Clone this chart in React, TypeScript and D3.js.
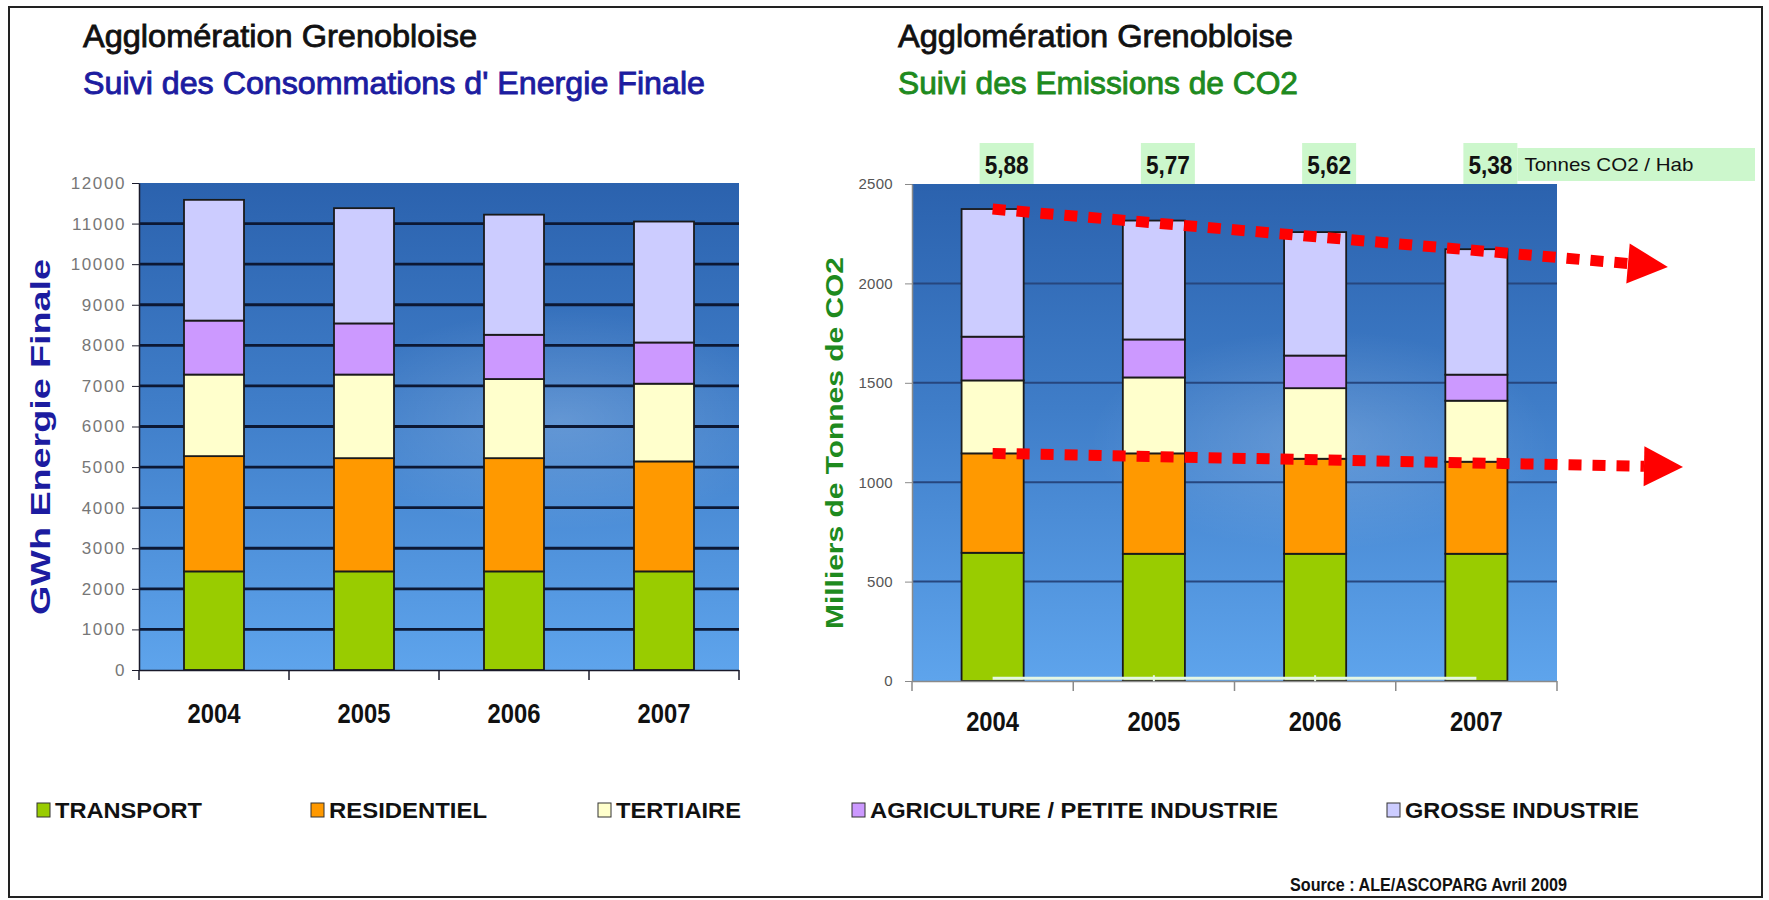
import * as d3 from 'd3';
import { useEffect, useRef } from 'react';

const years = ['2004', '2005', '2006', '2007'];
const sectors = ['TRANSPORT', 'RESIDENTIEL', 'TERTIAIRE', 'AGRICULTURE / PETITE INDUSTRIE', 'GROSSE INDUSTRIE'];
const sectorColors = ['#99cc00', '#ff9900', '#ffffcc', '#cc99ff', '#ccccff'];

// GWh energie finale
const energyTransport = [2430, 2430, 2430, 2430];
const energyResidentiel = [2840, 2790, 2790, 2710];
const energyTertiaire = [2010, 2060, 1950, 1915];
const energyAgriculture = [1330, 1260, 1090, 1015];
const energyGrosse = [2975, 2840, 2960, 2980];
const energyTicks = d3.range(0, 12001, 1000);

// milliers de tonnes de CO2
const co2Transport = [645, 640, 640, 640];
const co2Residentiel = [500, 505, 478, 463];
const co2Tertiaire = [367, 382, 355, 307];
const co2Agriculture = [220, 191, 164, 131];
const co2Grosse = [642, 598, 621, 631];
const co2Ticks = [0, 500, 1000, 1500, 2000, 2500];
const co2PerHab = ['5,88', '5,77', '5,62', '5,38'];
const co2BaseLine = [14, 14, 14, 14];

// trend arrows (start value on 2004 bar, end value past 2007)
const trendTop = [2374, 2100];
const trendBottom = [1145, 1080];

const legendX = [37, 311, 598, 852, 1387];
const legendW = [147, 158, 125, 408, 234];

const FONT = '"Liberation Sans", Arial, sans-serif';

const App = () => {
  const svgRef = useRef(null);
  const width = 1769, height = 900;

  useEffect(() => {
    const svg = d3.select(svgRef.current);
    svg.selectAll('*').remove();

    const defs = svg.append('defs');
    const sky = defs.append('linearGradient').attr('id', 'sky').attr('x1', 0).attr('y1', 0).attr('x2', 0).attr('y2', 1);
    sky.append('stop').attr('offset', '0%').attr('stop-color', '#2b62ae');
    sky.append('stop').attr('offset', '45%').attr('stop-color', '#3f7dc8');
    sky.append('stop').attr('offset', '100%').attr('stop-color', '#5ea4ec');
    const cloud = defs.append('radialGradient').attr('id', 'cloud');
    cloud.append('stop').attr('offset', '0%').attr('stop-color', '#ffffff').attr('stop-opacity', 0.18);
    cloud.append('stop').attr('offset', '100%').attr('stop-color', '#ffffff').attr('stop-opacity', 0);

    svg.append('rect').attr('width', width).attr('height', height).attr('fill', '#fff');
    svg.append('rect').attr('x', 9).attr('y', 7).attr('width', 1753).attr('height', 890)
      .attr('fill', 'none').attr('stroke', '#222').attr('stroke-width', 2);

    const txt = (x, y, s, size, fill, opts: any = {}) => {
      const t = svg.append('text').attr('x', x).attr('y', y).text(s)
        .attr('font-family', FONT).attr('font-size', size).attr('fill', fill)
        .attr('font-weight', opts.bold ? 'bold' : 'normal')
        .attr('text-anchor', opts.anchor || 'start');
      if (opts.len) t.attr('textLength', opts.len).attr('lengthAdjust', 'spacingAndGlyphs');
      if (opts.stroke) t.attr('stroke', fill).attr('stroke-width', opts.stroke);
      return t;
    };

    // titles
    txt(83, 47, 'Agglomération Grenobloise', 31, '#111', { len: 394, stroke: 0.8 });
    txt(83, 94, "Suivi des Consommations d' Energie Finale", 32, '#1c1ca0', { len: 622, stroke: 0.9 });
    txt(898, 47, 'Agglomération Grenobloise', 31, '#111', { len: 395, stroke: 0.8 });
    txt(898, 94, 'Suivi des Emissions de CO2', 32, '#1e8a1e', { len: 400, stroke: 0.9 });

    const drawPanel = (p) => {
      const x = d3.scaleBand().domain(years).range([p.x0, p.x1]).paddingInner(p.pad).paddingOuter(p.pad / 2);
      const y = d3.scaleLinear().domain([0, p.max]).range([p.y1, p.y0]);
      const g = svg.append('g');

      g.append('rect').attr('x', p.x0).attr('y', p.y0).attr('width', p.x1 - p.x0).attr('height', p.y1 - p.y0)
        .attr('fill', 'url(#sky)');
      g.append('ellipse').attr('cx', p.cloudX).attr('cy', p.cloudY).attr('rx', 230).attr('ry', 110).attr('fill', 'url(#cloud)');

      // grid
      g.append('g').selectAll('line').data(p.ticks.filter(t => t > 0 && t < p.max)).join('line')
        .attr('x1', p.x0).attr('x2', p.x1).attr('y1', d => y(d)).attr('y2', d => y(d))
        .attr('stroke', p.gridColor).attr('stroke-width', p.gridWidth);

      // stacks
      const rows = years.map((yr, i) => {
        const r: any = { year: yr };
        sectors.forEach((s, k) => { r[s] = p.series[k][i]; });
        return r;
      });
      const stacked = d3.stack().keys(sectors)(rows);
      stacked.forEach((layer, k) => {
        g.append('g').selectAll('rect').data(layer).join('rect')
          .attr('x', d => x(d.data.year)).attr('y', d => y(d[1]))
          .attr('width', x.bandwidth()).attr('height', d => y(d[0]) - y(d[1]))
          .attr('fill', sectorColors[k]).attr('stroke', '#1a1a1a').attr('stroke-width', 1.8);
      });

      // y axis
      const ax = g.append('g').attr('transform', `translate(${p.x0},0)`)
        .call(d3.axisLeft(y).tickValues(p.ticks).tickSize(7).tickSizeOuter(0).tickPadding(p.tickPad).tickFormat(d3.format('d')));
      ax.select('.domain').attr('stroke', p.axisColor).attr('stroke-width', 1.5);
      ax.selectAll('.tick line').attr('stroke', p.axisColor);
      ax.selectAll('.tick text').attr('font-family', FONT).attr('font-size', p.tickFont)
        .attr('fill', p.tickColor).attr('letter-spacing', p.tickSpacing);

      // x axis
      g.append('line').attr('x1', p.x0).attr('x2', p.x1).attr('y1', p.y1 + 0.5).attr('y2', p.y1 + 0.5)
        .attr('stroke', p.axisColor).attr('stroke-width', 1.5);
      g.append('g').selectAll('line').data(d3.range(years.length + 1)).join('line')
        .attr('x1', i => p.x0 + i * x.step()).attr('x2', i => p.x0 + i * x.step())
        .attr('y1', p.y1).attr('y2', p.y1 + 10).attr('stroke', p.axisColor).attr('stroke-width', 1.5);
      years.forEach(yr => {
        txt(x(yr) + x.bandwidth() / 2, p.yearY, yr, 27, '#111', { bold: true, anchor: 'middle', len: 53 });
      });
      return { x, y };
    };

    // left panel
    drawPanel({
      series: [energyTransport, energyResidentiel, energyTertiaire, energyAgriculture, energyGrosse],
      x0: 139, x1: 739, y0: 183, y1: 670, max: 12000, ticks: energyTicks, pad: 0.6,
      gridColor: '#0c1834', gridWidth: 2.8, axisColor: '#1a1a2a', tickFont: 17, tickColor: '#777',
      tickSpacing: 1.6, tickPad: 6, yearY: 723, cloudX: 560, cloudY: 420,
    });

    // right panel
    const { x, y } = drawPanel({
      series: [co2Transport, co2Residentiel, co2Tertiaire, co2Agriculture, co2Grosse],
      x0: 912, x1: 1557, y0: 184, y1: 681, max: 2500, ticks: co2Ticks, pad: 0.615,
      gridColor: '#26467e', gridWidth: 2, axisColor: '#8a8a8a', tickFont: 15, tickColor: '#555',
      tickSpacing: 0.3, tickPad: 12, yearY: 731, cloudX: 1320, cloudY: 440,
    });

    // pale base line
    const cx = (yr) => x(yr) + x.bandwidth() / 2;
    svg.append('path').datum(co2BaseLine)
      .attr('d', d3.line<number>().x((d, i) => cx(years[i])).y(d => y(d))(co2BaseLine))
      .attr('fill', 'none').attr('stroke', '#e4f7e4').attr('stroke-width', 3);
    svg.append('g').selectAll('line').data(years.slice(1, 3)).join('line')
      .attr('x1', d => cx(d)).attr('x2', d => cx(d))
      .attr('y1', y(co2BaseLine[0]) - 3).attr('y2', y(co2BaseLine[0]) + 3)
      .attr('stroke', '#e4f7e4').attr('stroke-width', 2);

    // CO2 per inhabitant labels
    co2PerHab.forEach((v, i) => {
      const bx = cx(years[i]) + 14;
      svg.append('rect').attr('x', bx - 27).attr('y', 143).attr('width', 54).attr('height', 41).attr('fill', '#ccf7cc');
      txt(bx, 174, v, 26, '#111', { bold: true, anchor: 'middle', len: 44 });
    });
    const lastX = cx(years[3]) + 14 + 27;
    svg.append('rect').attr('x', lastX).attr('y', 148).attr('width', 1755 - lastX).attr('height', 33).attr('fill', '#ccf7cc');
    txt(lastX + 7, 171, 'Tonnes CO2 / Hab', 19, '#111', { len: 169 });

    // trend arrows
    const arrow = (vals, endX, tipX) => {
      const x1 = cx(years[0]), y1 = y(vals[0]);
      const y2 = y(vals[1]);
      const ang = Math.atan2(y2 - y1, endX - x1);
      svg.append('line').attr('x1', x1).attr('y1', y1).attr('x2', endX).attr('y2', y2)
        .attr('stroke', '#ff0000').attr('stroke-width', 11).attr('stroke-dasharray', '13 11');
      const len = tipX - endX;
      const nx = -Math.sin(ang) * 20, ny = Math.cos(ang) * 20;
      const tx = endX + Math.cos(ang) * len, ty = y2 + Math.sin(ang) * len;
      svg.append('path')
        .attr('d', `M${endX + nx},${y2 + ny}L${tx},${ty}L${endX - nx},${y2 - ny}Z`)
        .attr('fill', '#ff0000');
    };
    arrow(trendTop, 1628, 1668);
    arrow(trendBottom, 1644, 1683);

    // y labels
    svg.append('text').attr('transform', 'translate(40,437) rotate(-90)').attr('dy', '0.35em')
      .attr('text-anchor', 'middle').attr('font-family', FONT).attr('font-size', 28).attr('font-weight', 'bold')
      .attr('fill', '#1c1ca0').attr('textLength', 356).attr('lengthAdjust', 'spacingAndGlyphs')
      .text('GWh Energie Finale');
    svg.append('text').attr('transform', 'translate(835,443) rotate(-90)').attr('dy', '0.35em')
      .attr('text-anchor', 'middle').attr('font-family', FONT).attr('font-size', 24).attr('font-weight', 'bold')
      .attr('fill', '#1e8a1e').attr('textLength', 372).attr('lengthAdjust', 'spacingAndGlyphs')
      .text('Milliers de Tonnes de CO2');

    // legend
    sectors.forEach((s, k) => {
      svg.append('rect').attr('x', legendX[k]).attr('y', 803).attr('width', 13).attr('height', 14)
        .attr('fill', sectorColors[k]).attr('stroke', '#333').attr('stroke-width', 1);
      txt(legendX[k] + 18, 818, s, 22, '#111', { bold: true, len: legendW[k] });
    });

    txt(1290, 891, 'Source : ALE/ASCOPARG Avril 2009', 18, '#111', { bold: true, len: 277 });
  }, []);

  return <svg ref={svgRef} width={width} height={height} style={{ position: 'absolute', left: 0, top: 0 }}></svg>;
};

export default App;
